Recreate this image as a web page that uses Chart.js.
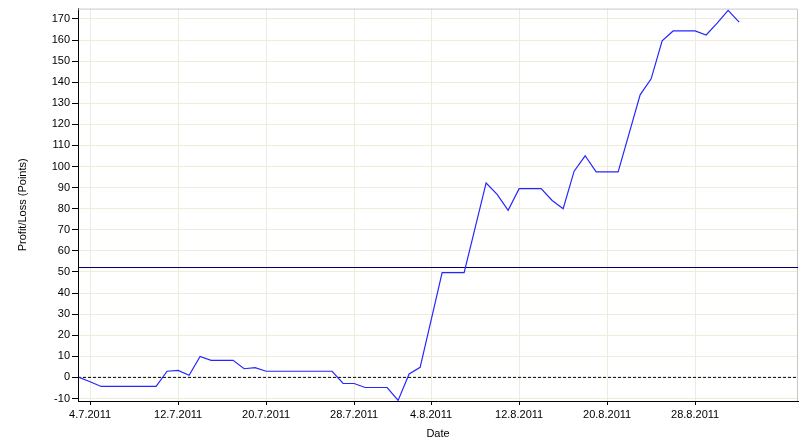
<!DOCTYPE html>
<html>
<head>
<meta charset="utf-8">
<script src="https://cdn.jsdelivr.net/npm/chart.js@4.4.1/dist/chart.umd.min.js"></script>
<style>
  html, body { margin: 0; padding: 0; background: #fff; }
  #wrap { width: 811px; height: 446px; }
</style>
</head>
<body>
<div id="wrap"><canvas id="pnlChart" width="811" height="446"></canvas></div>
<script>
// trading dates (d.m.yyyy) and cumulative profit/loss in points
const dates = [
  '3.7.2011', '4.7.2011', '5.7.2011', '6.7.2011', '7.7.2011', '8.7.2011', '9.7.2011', '10.7.2011',
  '11.7.2011', '12.7.2011', '13.7.2011', '14.7.2011', '15.7.2011', '16.7.2011', '17.7.2011', '18.7.2011',
  '19.7.2011', '20.7.2011', '21.7.2011', '22.7.2011', '23.7.2011', '24.7.2011', '25.7.2011', '26.7.2011',
  '27.7.2011', '28.7.2011', '29.7.2011', '30.7.2011', '31.7.2011', '1.8.2011', '2.8.2011', '3.8.2011',
  '4.8.2011', '5.8.2011', '6.8.2011', '7.8.2011', '8.8.2011', '9.8.2011', '10.8.2011', '11.8.2011',
  '12.8.2011', '13.8.2011', '14.8.2011', '15.8.2011', '16.8.2011', '17.8.2011', '18.8.2011', '19.8.2011',
  '20.8.2011', '21.8.2011', '22.8.2011', '23.8.2011', '24.8.2011', '25.8.2011', '26.8.2011', '27.8.2011',
  '28.8.2011', '29.8.2011', '30.8.2011', '31.8.2011', '1.9.2011'
];
const profitLoss = [
  0, -2.1, -4.3, -4.3, -4.3, -4.3, -4.3, -4.3,
  2.9, 3.3, 1, 9.9, 8.1, 8.1, 8.1, 4.1,
  4.6, 2.9, 2.9, 2.9, 2.9, 2.9, 2.9, 2.9,
  -2.9, -2.9, -4.8, -4.8, -4.8, -10.9, 1.6, 4.8,
  27.2, 49.7, 49.7, 49.7, 70.9, 92.2, 86.8, 79.2,
  89.5, 89.5, 89.5, 83.9, 80.0, 97.8, 105.1, 97.5,
  97.5, 97.5, 115.7, 134.0, 141.6, 159.6, 164.3, 164.3,
  164.3, 162.4, 168.0, 174.1, 168.5
];
const referenceLevel = 52.1;   // solid horizontal line
const zeroLevel = 0;           // dashed line

const tickDates = ['4.7.2011', '12.7.2011', '20.7.2011', '28.7.2011', '4.8.2011', '12.8.2011', '20.8.2011', '28.8.2011'];
const yMin = -11.2, yMax = 174.9;
const xStartDate = '3.7.2011', xEndDate = '6.9.2011';

// day numbers so the x axis is linear in time
function dayNum(s) {
  const [d, m, y] = s.split('.').map(Number);
  return Date.UTC(y, m - 1, d) / 86400000;
}
const xMin = dayNum(xStartDate) - 0.1;
const xMax = dayNum(xEndDate) + 0.35;
const tickValues = tickDates.map(dayNum);

const points = dates.map((d, i) => ({ x: dayNum(d), y: profitLoss[i] }));

const framePlugin = {
  id: 'frame',
  beforeDatasetsDraw(chart) {
    const { ctx, chartArea: a } = chart;
    ctx.save();
    ctx.strokeStyle = '#c8c8c8';
    ctx.lineWidth = 1;
    ctx.beginPath();
    ctx.moveTo(a.left, a.top + 0.5);
    ctx.lineTo(a.right - 0.5, a.top + 0.5);
    ctx.lineTo(a.right - 0.5, a.bottom);
    ctx.stroke();
    ctx.restore();
  }
};

const font = { family: '"Liberation Sans", Arial, sans-serif', size: 11 };

new Chart(document.getElementById('pnlChart'), {
  type: 'line',
  data: {
    datasets: [
      {
        data: points,
        borderColor: '#2626ff',
        borderWidth: 1.2,
        pointRadius: 0,
        tension: 0,
        clip: 2,
        order: 1
      },
      {
        data: [{ x: xMin, y: referenceLevel }, { x: xMax, y: referenceLevel }],
        borderColor: '#000060',
        borderWidth: 1,
        pointRadius: 0,
        order: 2
      },
      {
        data: [{ x: xMin, y: zeroLevel }, { x: xMax, y: zeroLevel }],
        borderColor: '#000000',
        borderWidth: 1,
        borderDash: [3, 2],
        pointRadius: 0,
        order: 3
      }
    ]
  },
  options: {
    responsive: false,
    devicePixelRatio: 1,
    animation: false,
    layout: { padding: { left: 0, top: 8, right: 13, bottom: 0 } },
    plugins: { legend: { display: false }, tooltip: { enabled: false } },
    scales: {
      x: {
        type: 'linear',
        min: xMin,
        max: xMax,
        afterBuildTicks(scale) {
          scale.ticks = tickValues.map(v => ({ value: v }));
        },
        afterFit(scale) { scale.height = 45; },
        grid: { color: '#efecdc', tickColor: '#000', tickLength: 4 },
        border: { color: '#000', width: 1 },
        ticks: {
          color: '#000',
          font: font,
          padding: 3,
          maxRotation: 0,
          autoSkip: false,
          callback(value) {
            const i = tickValues.indexOf(value);
            return i >= 0 ? tickDates[i] : '';
          }
        },
        title: { display: true, text: 'Date', color: '#000', font: font, padding: { top: 0, bottom: 5 } }
      },
      y: {
        min: yMin,
        max: yMax,
        afterFit(scale) { scale.width = 78; },
        grid: { color: '#efecdc', tickColor: '#000', tickLength: 6 },
        border: { color: '#000', width: 1 },
        ticks: { stepSize: 10, includeBounds: false, color: '#000', font: font, padding: 2 },
        title: { display: true, text: 'Profit/Loss (Points)', color: '#000', font: font, padding: { top: 16, bottom: 0 } }
      }
    }
  },
  plugins: [framePlugin]
});
</script>
</body>
</html>
